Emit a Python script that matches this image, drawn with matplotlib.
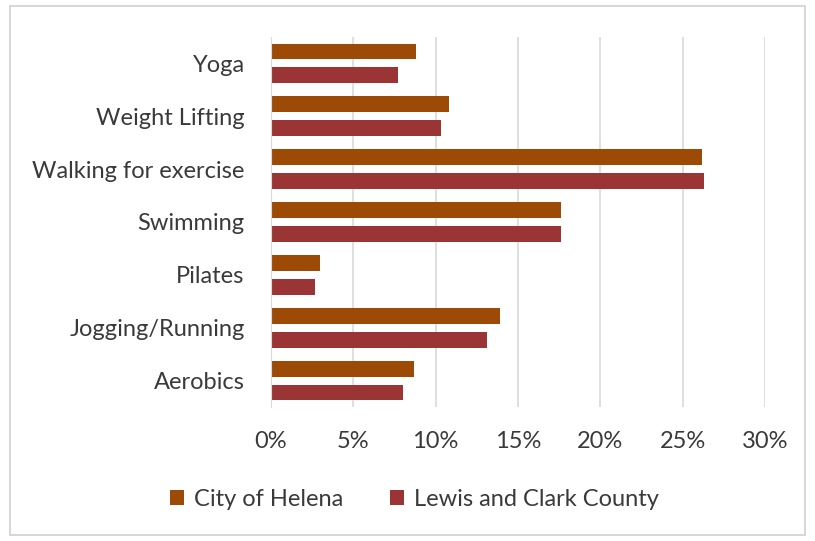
import matplotlib.pyplot as plt
import numpy as np
from matplotlib.patches import FancyBboxPatch

categories = ['Yoga', 'Weight Lifting', 'Walking for exercise', 'Swimming',
              'Pilates', 'Jogging/Running', 'Aerobics']
helena = [8.8, 10.8, 26.2, 17.6, 3.0, 13.9, 8.7]
county = [7.7, 10.3, 26.3, 17.6, 2.7, 13.1, 8.0]
series_names = ['City of Helena', 'Lewis and Clark County']
colors = ['#9C4A06', '#9B3434']

plt.rcParams['font.family'] = ['Lato', 'DejaVu Sans']

fig = plt.figure(figsize=(8.15, 5.41), dpi=100)
ax = fig.add_axes([0.3325, 0.2477, 0.6062, 0.6839])

# outer chart border
fig.patches.append(FancyBboxPatch((0.012, 0.012), 0.976, 0.976, boxstyle='square,pad=0',
                                  transform=fig.transFigure, fill=False,
                                  edgecolor='#D0D0D0', lw=1.2))

y = np.arange(len(categories))
off = 0.226
h = 0.30
ax.barh(y - off, helena, height=h, color=colors[0], label=series_names[0])
ax.barh(y + off, county, height=h, color=colors[1], label=series_names[1])

ax.set_ylim(len(categories) - 0.5, -0.5)
ax.set_xlim(0, 30)
ax.set_xticks(np.arange(0, 31, 5))
ax.set_xticklabels([f'{v}%' for v in range(0, 31, 5)])
ax.set_yticks(y)
ax.set_yticklabels(categories)

ax.grid(axis='x', color='#D9D9D9', lw=1.2)
ax.set_axisbelow(True)
for s in ['top', 'right', 'bottom']:
    ax.spines[s].set_visible(False)
ax.spines['left'].set_color('#D9D9D9')
ax.tick_params(axis='both', length=0, labelsize=17, colors='#3A3A3A')
ax.tick_params(axis='x', pad=17)
ax.tick_params(axis='y', pad=19)

ax.legend(loc='center', bbox_to_anchor=(0.29, -0.25), ncol=2, frameon=False,
          fontsize=17, handlelength=0.6, handleheight=0.6, columnspacing=2.0,
          handletextpad=0.4, labelcolor='#3A3A3A')

plt.savefig('out.png', dpi=100)
